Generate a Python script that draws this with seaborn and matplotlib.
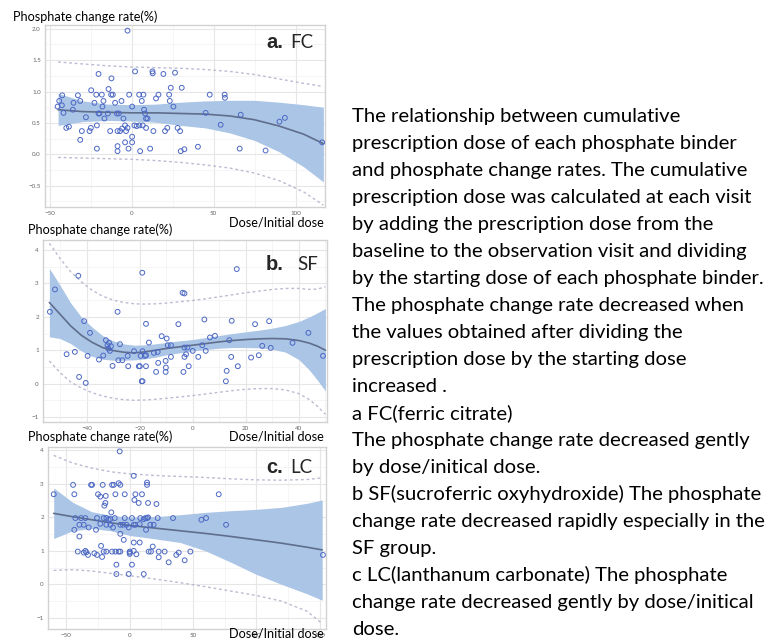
import numpy as np
import pandas as pd
import matplotlib
matplotlib.use("Agg")
import matplotlib.pyplot as plt
from matplotlib.ticker import MultipleLocator
import seaborn as sns

# ---- panel a: FC ----
fc_x = [-45.3, -44.3, -42.5, -42.7, -41.7, -40, -38.4, -36, -35.6, -32.9, -31.5, -31.5, -30.5, -28, -25.8,
        -25, -24.8, -22.8, -21.7, -21.3, -21.3, -20.3, -20.3, -19.7, -18.3, -17.3, -17.9, -16.7, -14.6, -14.2,
        -13.2, -12.4, -12.6, -11.6, -10.2, -9.1, -8.7, -8.7, -8.7, -7.9, -7.1, -6.3, -5.9, -5.1, -4.1,
        -4.1, -3.5, -2.6, -2.6, -2, -1.6, 0.2, 0.2, 0.2, 1.6, 2, 3, 4.5, 4.7, 5.1,
        6.1, 6.7, 7.1, 7.5, 8.1, 8.7, 8.7, 9.6, 11.2, 12.6, 12.8, 13.2, 14.8, 16.3, 19.3,
        20.3, 21.7, 22.8, 23.2, 23.8, 25.4, 26.4, 28, 29.5, 30.5, 29.9, 32.1, 40.4, 45.1, 47.6,
        56.7, 56.9, 54.3, 65.9, 66.5, 81.7, 90.2, 93.5, 116.3]
fc_y = [0.76, 0.85, 0.94, 0.78, 0.66, 0.42, 0.44, 0.71, 0.82, 0.94, 0.85, 0.23, 0.37, 0.59, 0.37,
        0.42, 1.02, 0.82, 0.95, 0.46, 0.09, 1.28, 0.65, 0.65, 0.95, 0.85, 0.76, 0.57, 0.65, 1.04,
        0.37, 1.21, 0.95, 0.95, 0.82, 0.65, 0.37, 0.13, 0.05, 0.65, 0.37, 0.85, 0.41, 0.57, 0.19,
        0.46, 0.37, 0.42, 1.97, 0.09, 0.95, 0.76, 0.28, 0.19, 0.46, 1.32, 0.45, 0.95, 0.46, 0.05,
        0.85, 0.46, 0.95, 0.71, 0.65, 0.42, 0.57, 0.57, 0.09, 1.32, 1.29, 0.37, 0.89, 0.95, 1.28,
        0.37, 0.42, 0.95, 0.85, 1.06, 0.76, 1.30, 0.42, 0.37, 1.06, 0.05, 0.08, 0.12, 0.66, 0.95,
        0.95, 0.90, 0.47, 0.09, 0.63, 0.06, 0.52, 0.58, 0.19]
fc_grid = [-45, -30, -15, 0, 15, 30, 45, 60, 75, 90, 105, 117]
fc_fit = [0.71, 0.68, 0.67, 0.66, 0.66, 0.65, 0.64, 0.61, 0.55, 0.45, 0.32, 0.17]
fc_hi = [0.97, 0.85, 0.80, 0.79, 0.80, 0.83, 0.85, 0.86, 0.86, 0.83, 0.79, 0.75]
fc_lo = [0.46, 0.52, 0.54, 0.53, 0.51, 0.46, 0.42, 0.34, 0.22, 0.04, -0.20, -0.44]
fc_pi_hi = [1.47, 1.44, 1.41, 1.39, 1.38, 1.37, 1.35, 1.32, 1.27, 1.20, 1.13, 1.08]
fc_pi_lo = [-0.05, -0.06, -0.07, -0.08, -0.10, -0.13, -0.17, -0.22, -0.30, -0.42, -0.60, -0.81]

# ---- panel b: SF ----
sf_x = [-53.8, -51.9, -47.5, -44.4, -43.1, -42.8, -40.9, -40.3, -39.6, -38.7, -35.3, -33.7, -32.7, -32.1, -31.8,
        -31.5, -31.2, -30.8, -30.2, -28.3, -28, -27.4, -26.5, -24.3, -24.5, -22.1, -20.3, -19.9, -19.6, -19.2,
        -18.9, -19, -18.9, -18, -17.6, -17.6, -17.6, -16.5, -14.6, -13.8, -13.2, -13, -11.7, -10.2, -10.2,
        -10.1, -9.8, -9.4, -8.2, -8.2, -5.4, -3.8, -3.1, -3.5, -3.1, -3.1, -2.5, -2, -1.5, 0,
        2.1, 3.6, 4.4, 4.9, 6.5, 8.4, 12.5, 12.8, 13.8, 14.5, 14.7, 16.6, 17, 22, 23.5,
        24.9, 26.2, 28.8, 29.4, 37.6, 43.6, 49.1]
sf_y = [2.15, 2.82, 0.88, 0.95, 3.23, 0.20, 1.87, 0.02, 0.83, 1.52, 0.72, 0.84, 1.30, 1.15, 1.05,
        1.22, 0.98, 1.12, 0.53, 2.15, 0.70, 1.18, 0.70, 0.52, 0.83, 0.97, 0.52, 0.52, 0.83, 0.07,
        0.07, 3.32, 0.97, 0.83, 0.85, 1.79, 0.52, 1.23, 0.92, 0.35, 0.95, 0.62, 1.42, 0.35, 0.68,
        0.48, 1.35, 1.15, 1.15, 0.80, 1.78, 2.72, 2.70, 0.35, 1.08, 0.80, 0.88, 1.08, 0.52, 0.98,
        0.80, 1.15, 1.92, 0.98, 1.38, 1.43, 0.07, 0.38, 1.30, 0.80, 1.88, 3.43, 0.52, 0.78, 1.78,
        0.85, 1.13, 1.87, 1.07, 1.22, 1.52, 0.83]
sf_grid = [-54, -50, -46, -42, -38, -34, -30, -26, -22, -18, -14, -10, -5, 0, 5, 10, 15, 20, 25, 30, 35, 40, 44, 47, 50]
sf_fit = [2.43, 2.08, 1.73, 1.45, 1.24, 1.08, 0.99, 0.94, 0.92, 0.95, 1.00, 1.05, 1.10, 1.15, 1.20, 1.25, 1.29,
          1.32, 1.34, 1.35, 1.34, 1.29, 1.21, 1.12, 1.00]
sf_hi = [3.45, 2.95, 2.42, 2.00, 1.70, 1.44, 1.28, 1.19, 1.15, 1.16, 1.19, 1.23, 1.28, 1.32, 1.38, 1.44, 1.50,
         1.55, 1.60, 1.66, 1.74, 1.86, 2.00, 2.12, 2.25]
sf_lo = [1.40, 1.35, 1.20, 0.98, 0.82, 0.73, 0.70, 0.70, 0.71, 0.74, 0.79, 0.86, 0.92, 0.98, 1.02, 1.06, 1.08,
         1.08, 1.07, 1.03, 0.94, 0.72, 0.40, 0.10, -0.22]
sf_pi_hi = [4.20, 3.75, 3.35, 3.05, 2.80, 2.62, 2.50, 2.43, 2.39, 2.38, 2.39, 2.41, 2.45, 2.49, 2.54, 2.60, 2.66,
            2.72, 2.77, 2.82, 2.85, 2.85, 2.82, 2.83, 2.90]
sf_pi_lo = [0.68, 0.33, 0.05, -0.13, -0.27, -0.37, -0.44, -0.48, -0.50, -0.49, -0.47, -0.44, -0.40, -0.36, -0.31,
            -0.26, -0.21, -0.17, -0.15, -0.15, -0.19, -0.30, -0.48, -0.68, -0.92]

# ---- panel c: LC ----
lc_x = [-60, -44.7, -43.7, -43.7, -42.9, -41, -39.7, -39.7, -38.4, -35, -36.3, -36.3, -35, -34.2, -32.9,
        -32.4, -30.5, -29.7, -27.9, -25.8, -21.8, -26.6, -25.8, -25, -23.2, -22.6, -21.3, -20.5, -18.4, -20,
        -19.2, -18.9, -23.2, -18.4, -20.5, -18.4, -16.6, -15.3, -15.3, -14.5, -13.9, -12.6, -13.2, -11.3, -11.8,
        -10.5, -10.5, -13.9, -11.3, -8.7, -7.4, -8.7, -7.4, -7.9, -7.4, -5.3, -2.6, -7.4, -4.7, -3.9,
        -3.9, -0.8, 0, 0, 0, -0.8, 1.8, 1.8, 3.2, 3.2, 4.5, 3.2, 3.7, 4.5, 3.2,
        5.3, 7.1, 7.9, 8.4, 11.1, 7.9, 9.7, 11.1, 12.4, 13.7, 14.5, 12.9, 13.7, 13.7, 15,
        16.8, 14.5, 18.2, 16.3, 18.9, 21.1, 22.1, 22.9, 22.9, 27.6, 30.8, 34.2, 36.8, 38.7, 43.4,
        47.9, 56.6, 60.3, 70.3, 76.1, 152.6]
lc_y = [2.69, 2.97, 2.69, 1.63, 1.98, 0.98, 1.43, 1.78, 1.98, 1.98, 1.78, 0.95, 1.00, 0.96, 0.88,
        1.70, 2.97, 2.97, 0.93, 0.88, 0.82, 1.63, 1.98, 2.69, 2.62, 1.15, 2.97, 1.98, 1.98, 2.35,
        2.43, 2.64, 1.81, 1.78, 0.98, 0.98, 1.93, 1.95, 1.78, 2.15, 2.97, 2.97, 1.70, 2.69, 1.98,
        0.59, 0.31, 0.98, 0.98, 0.98, 0.98, 3.02, 2.97, 3.97, 1.78, 1.78, 1.78, 1.51, 1.33, 1.98,
        2.69, 1.70, 0.98, 0.95, 0.91, 0.31, 1.98, 0.59, 1.25, 1.78, 1.78, 3.24, 2.52, 2.69, 1.00,
        0.90, 2.43, 1.80, 1.98, 1.95, 1.25, 2.69, 0.31, 1.98, 1.98, 2.00, 1.63, 3.04, 2.97, 0.98,
        0.98, 2.43, 1.13, 1.78, 1.78, 2.40, 1.98, 0.81, 0.98, 0.98, 0.66, 1.98, 0.88, 0.95, 0.72,
        0.98, 1.93, 1.98, 2.69, 1.78, 0.88]
lc_grid = [-60, -45, -30, -15, 0, 20, 40, 60, 80, 100, 120, 140, 152]
lc_fit = [2.12, 2.02, 1.93, 1.84, 1.76, 1.68, 1.60, 1.52, 1.43, 1.33, 1.23, 1.11, 1.03]
lc_hi = [2.88, 2.45, 2.17, 2.06, 2.01, 2.02, 2.08, 2.15, 2.20, 2.24, 2.30, 2.42, 2.52]
lc_lo = [1.37, 1.60, 1.67, 1.60, 1.46, 1.36, 1.25, 1.00, 0.66, 0.30, 0.00, -0.28, -0.47]
lc_pi_hi = [3.85, 3.62, 3.47, 3.36, 3.30, 3.25, 3.22, 3.19, 3.15, 3.12, 3.11, 3.13, 3.18]
lc_pi_lo = [0.42, 0.44, 0.40, 0.33, 0.26, 0.16, 0.05, -0.07, -0.20, -0.33, -0.50, -0.80, -1.17]

caption = [
    "The relationship between cumulative",
    "prescription dose of each phosphate binder",
    "and phosphate change rates. The cumulative",
    "prescription dose was calculated at each visit",
    "by adding the prescription dose from the",
    "baseline to the observation visit and dividing",
    "by the starting dose of each phosphate binder.",
    "The phosphate change rate decreased when",
    "the values obtained after dividing the",
    "prescription dose by the starting dose",
    "increased .",
    "a FC(ferric citrate)",
    "The phosphate change rate decreased gently",
    "by dose/initical dose.",
    "b SF(sucroferric oxyhydroxide) The phosphate",
    "change rate decreased rapidly especially in the",
    "SF group.",
    "c LC(lanthanum carbonate) The phosphate",
    "change rate decreased gently by dose/initical",
    "dose.",
]

sns.set_theme(style="white")
plt.rcParams["font.family"] = ["Lato", "DejaVu Sans"]

W, H = 774, 641
fig = plt.figure(figsize=(W / 100, H / 100), dpi=100)

PT = "#4c68c4"
BAND = "#abc5e6"
LINE = "#5f6e8c"
DASH = "#bbbbd2"


def px_ax(l, t, r, b):
    return fig.add_axes([l / W, 1 - b / H, (r - l) / W, (b - t) / H])


def draw_panel(ax, x, y, grid, fit, lo, hi, pi_lo, pi_hi, xlim, ylim, xstep, ystep, yfmt):
    ax.fill_between(grid, lo, hi, color=BAND, lw=0, zorder=2)
    sns.lineplot(x=grid, y=pi_hi, ax=ax, color=DASH, lw=1.0, linestyle=(0, (2, 2)), zorder=2)
    sns.lineplot(x=grid, y=pi_lo, ax=ax, color=DASH, lw=1.0, linestyle=(0, (2, 2)), zorder=2)
    sns.lineplot(x=grid, y=fit, ax=ax, color=LINE, lw=1.2, zorder=3)
    sns.scatterplot(x=x, y=y, ax=ax, marker="o", s=12, facecolors="none", edgecolor=PT,
                    linewidth=0.7, zorder=4)
    ax.set_xlim(*xlim)
    ax.set_ylim(*ylim)
    ax.xaxis.set_major_locator(MultipleLocator(xstep))
    ax.yaxis.set_major_locator(MultipleLocator(ystep))
    ax.xaxis.set_minor_locator(MultipleLocator(xstep / 2))
    ax.yaxis.set_minor_locator(MultipleLocator(ystep / 2))
    ax.yaxis.set_major_formatter(yfmt)
    ax.grid(True, which="major", color="#e6e6e6", lw=0.8, zorder=0)
    ax.grid(True, which="minor", color="#f2f2f2", lw=0.5, zorder=0)
    ax.set_axisbelow(True)
    ax.tick_params(length=0, labelsize=4.5, labelcolor="#666666", pad=3)
    for s in ax.spines.values():
        s.set_color("#d2d2d2")
        s.set_linewidth(1.0)
    ax.set_xlabel("")
    ax.set_ylabel("")


ax_a = px_ax(45, 25, 325, 207)
draw_panel(ax_a, fc_x, fc_y, fc_grid, fc_fit, fc_lo, fc_hi, fc_pi_lo, fc_pi_hi,
           (-53, 118), (-0.84, 2.06), 50, 0.5, "{x:.1f}")
ax_b = px_ax(43, 240, 327, 422)
draw_panel(ax_b, sf_x, sf_y, sf_grid, sf_fit, sf_lo, sf_hi, sf_pi_lo, sf_pi_hi,
           (-56.4, 50.6), (-1.15, 4.3), 20, 1, "{x:.0f}")
ax_c = px_ax(48, 447, 326, 629)
draw_panel(ax_c, lc_x, lc_y, lc_grid, lc_fit, lc_lo, lc_hi, lc_pi_lo, lc_pi_hi,
           (-64.5, 155), (-1.33, 4.1), 50, 1, "{x:.0f}")


def ftext(px, py, s, **kw):
    fig.text(px / W, 1 - py / H, s, va="baseline", ha="left", **kw)


lab = dict(fontsize=9.1, color="black")
ftext(13, 21, "Phosphate change rate(%)", **lab)
ftext(229, 226.5, "Dose/Initial dose", **lab)
ftext(28, 234, "Phosphate change rate(%)", **lab)
ftext(229, 440.7, "Dose/Initial dose", **lab)
ftext(28, 440.7, "Phosphate change rate(%)", **lab)
ftext(229, 638, "Dose/Initial dose", **lab)

for letter, name, py, gap in [("a.", "FC", 48.3, 290), ("b.", "SF", 270, 297), ("c.", "LC", 473, 290)]:
    ftext(266, py, letter, fontsize=14.5, fontweight="bold", family=["Liberation Sans", "DejaVu Sans"])
    ftext(gap, py, name, fontsize=13.5)

for i, line in enumerate(caption):
    ftext(352, 121.7 + 27 * i, line, fontsize=14.6, color="black")

fig.savefig("out.png", dpi=100)
